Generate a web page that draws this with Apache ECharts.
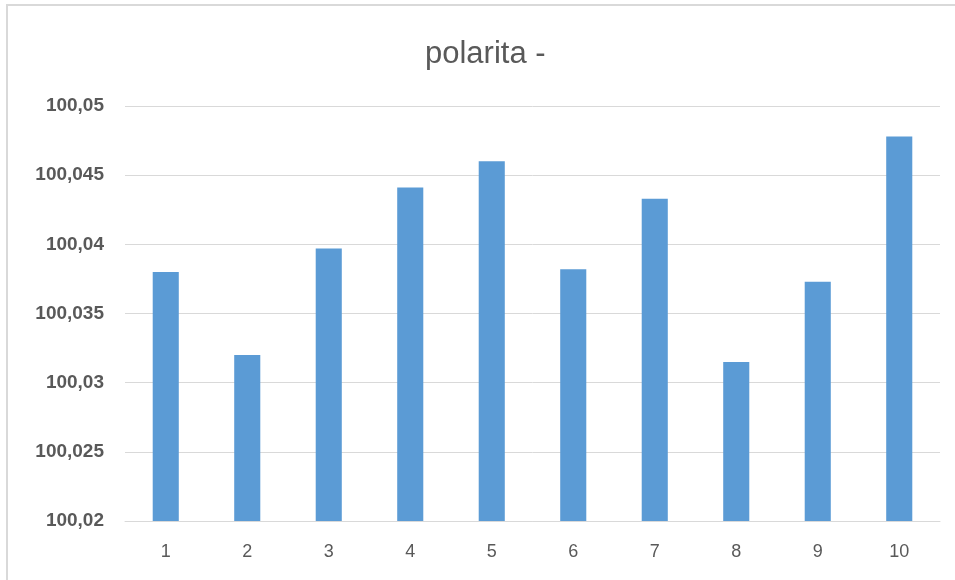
<!DOCTYPE html>
<html>
<head>
<meta charset="utf-8">
<script src="https://cdn.jsdelivr.net/npm/echarts@6/dist/echarts.min.js"></script>
<style>
  html, body { margin: 0; padding: 0; background: #fff; }
  #chart { width: 955px; height: 580px; }
</style>
</head>
<body>
<div id="chart"></div>
<script>
// Measurement index and values for the negative-polarity run
const categories = ['1', '2', '3', '4', '5', '6', '7', '8', '9', '10'];
const values = [100.038, 100.032, 100.0397, 100.0441, 100.046, 100.0382, 100.0433, 100.0315, 100.0373, 100.0478];
const yTicks = { min: 100.02, max: 100.05, step: 0.005 };

const chart = echarts.init(document.getElementById('chart'));
chart.setOption({
  backgroundColor: '#fff',
  animation: false,
  title: {
    text: 'polarita -',
    left: 420,
    top: 34,
    textStyle: { fontFamily: 'Liberation Sans, sans-serif', fontSize: 31, fontWeight: 'normal', color: '#595959' }
  },
  graphic: [{
    type: 'rect',
    shape: { x: 7, y: 5, width: 960, height: 600 },
    style: { fill: 'none', stroke: '#d9d9d9', lineWidth: 2 },
    silent: true
  }],
  grid: { left: 125, right: 15, top: 106, bottom: 59 },
  xAxis: {
    type: 'category',
    data: categories,
    axisLine: { lineStyle: { color: '#d9d9d9', width: 1 } },
    axisTick: { show: false },
    axisLabel: { color: '#595959', fontSize: 18, margin: 22, fontFamily: 'Liberation Sans, sans-serif' }
  },
  yAxis: {
    type: 'value',
    min: yTicks.min,
    max: yTicks.max,
    interval: yTicks.step,
    axisLine: { show: false },
    axisTick: { show: false },
    splitLine: { lineStyle: { color: '#d9d9d9', width: 1 } },
    axisLabel: {
      color: '#595959', fontSize: 19, margin: 21, fontWeight: 'bold',
      fontFamily: 'Liberation Sans, sans-serif',
      formatter: v => String(+v.toFixed(3)).replace('.', ',')
    }
  },
  series: [{
    type: 'bar',
    data: values,
    barWidth: '32%',
    itemStyle: { color: '#5b9bd5' }
  }]
});
</script>
</body>
</html>
